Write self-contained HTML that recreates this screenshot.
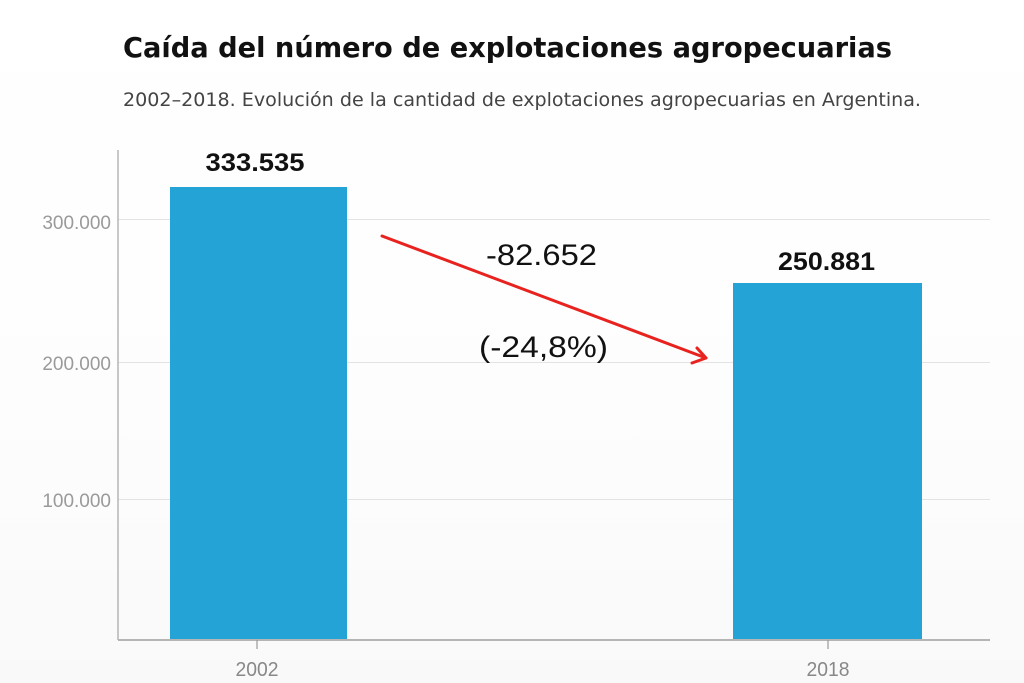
<!DOCTYPE html>
<html>
<head>
<meta charset="utf-8">
<style>
html,body{margin:0;padding:0;}
body{width:1024px;height:683px;overflow:hidden;background:#fff;}
svg{display:block;}
</style>
</head>
<body>
<svg width="1024" height="683" viewBox="0 0 1024 683" xmlns="http://www.w3.org/2000/svg">
  <defs>
    <linearGradient id="bg" x1="0" y1="0" x2="0" y2="1">
      <stop offset="0" stop-color="#ffffff"/>
      <stop offset="0.6" stop-color="#fdfdfd"/>
      <stop offset="1" stop-color="#f9f9fa"/>
    </linearGradient>
  </defs>
  <rect x="0" y="0" width="1024" height="683" fill="url(#bg)"/>

  <!-- Title -->
  <text x="123" y="57" font-family="DejaVu Sans, Liberation Sans, sans-serif" font-weight="bold" font-size="28" fill="#111" textLength="769" lengthAdjust="spacingAndGlyphs">Caída del número de explotaciones agropecuarias</text>
  <text x="123" y="106" font-family="DejaVu Sans, Liberation Sans, sans-serif" font-size="19" fill="#444" textLength="798" lengthAdjust="spacingAndGlyphs">2002–2018. Evolución de la cantidad de explotaciones agropecuarias en Argentina.</text>

  <!-- gridlines -->
  <line x1="118" y1="219.5" x2="990" y2="219.5" stroke="#e3e3e3" stroke-width="1"/>
  <line x1="118" y1="362.5" x2="990" y2="362.5" stroke="#e3e3e3" stroke-width="1"/>
  <line x1="118" y1="499.5" x2="990" y2="499.5" stroke="#e3e3e3" stroke-width="1"/>

  <!-- y labels -->
  <g font-family="Liberation Sans, sans-serif" font-size="19" fill="#9a9a9a" text-anchor="end">
    <text x="111" y="229">300.000</text>
    <text x="111" y="370">200.000</text>
    <text x="111" y="507">100.000</text>
  </g>

  <!-- bars -->
  <rect x="170" y="187" width="177" height="453" fill="#24a3d7"/>
  <rect x="733" y="283" width="189" height="357" fill="#24a3d7"/>

  <!-- axes -->
  <line x1="118" y1="150" x2="118" y2="640" stroke="#b5b5b5" stroke-width="1.5"/>
  <line x1="118" y1="640" x2="990" y2="640" stroke="#b5b5b5" stroke-width="2"/>
  <line x1="257" y1="640" x2="257" y2="649" stroke="#9a9a9a" stroke-width="1.2"/>
  <line x1="828" y1="640" x2="828" y2="649" stroke="#9a9a9a" stroke-width="1.2"/>

  <!-- x labels -->
  <g font-family="Liberation Sans, sans-serif" font-size="20" fill="#888" text-anchor="middle">
    <text x="257" y="676" textLength="43" lengthAdjust="spacingAndGlyphs">2002</text>
    <text x="828" y="676" textLength="43" lengthAdjust="spacingAndGlyphs">2018</text>
  </g>

  <!-- value labels -->
  <g font-family="Liberation Sans, sans-serif" font-weight="bold" font-size="25" fill="#111" text-anchor="middle">
    <text x="255" y="171" textLength="99" lengthAdjust="spacingAndGlyphs">333.535</text>
    <text x="826.5" y="270" textLength="97" lengthAdjust="spacingAndGlyphs">250.881</text>
  </g>

  <!-- arrow -->
  <g stroke="#e8231f" stroke-width="3" fill="none" stroke-linecap="round" stroke-linejoin="round">
    <line x1="382" y1="236" x2="706" y2="358"/>
    <polyline points="697,348 706,358 692,363"/>
  </g>

  <!-- change labels -->
  <g font-family="Liberation Sans, sans-serif" font-size="30" fill="#111" text-anchor="middle">
    <text x="541.5" y="265" textLength="111" lengthAdjust="spacingAndGlyphs">-82.652</text>
    <text x="543.5" y="357" textLength="129" lengthAdjust="spacingAndGlyphs">(-24,8%)</text>
  </g>
</svg>
</body>
</html>
